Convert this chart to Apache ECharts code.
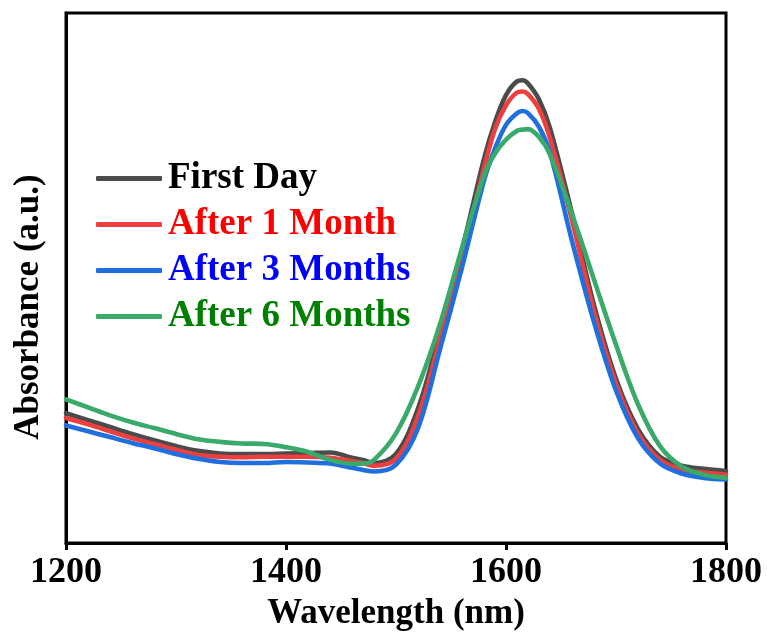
<!DOCTYPE html>
<html>
<head>
<meta charset="utf-8">
<script src="https://cdn.jsdelivr.net/npm/echarts@6/dist/echarts.min.js"></script>
<style>
  html, body { margin: 0; padding: 0; background: #fff; }
  #chart { width: 767px; height: 636px; }
</style>
</head>
<body>
<div id="chart"></div>
<script>
// Wavelength grid (nm) shared by all spectra
const wavelengths = [1200, 1220, 1240, 1260, 1280, 1300, 1320, 1340, 1360, 1380, 1400, 1420, 1440, 1460, 1470, 1480, 1500,
  1520, 1540, 1560, 1580, 1590, 1600, 1610, 1615, 1620, 1630, 1640, 1660, 1680, 1700, 1720, 1740, 1760, 1780, 1800];

// Absorbance (a.u.) for each storage time
const firstDay = [0.245, 0.232, 0.219, 0.206, 0.194, 0.183, 0.174, 0.169, 0.168, 0.168, 0.169, 0.170, 0.171, 0.161, 0.157, 0.151, 0.168,
  0.254, 0.398, 0.553, 0.725, 0.794, 0.845, 0.871, 0.873, 0.867, 0.837, 0.783, 0.622, 0.449, 0.310, 0.215, 0.163, 0.146, 0.140, 0.136];
const after1Month = [0.236, 0.224, 0.211, 0.198, 0.187, 0.176, 0.166, 0.163, 0.162, 0.163, 0.163, 0.163, 0.161, 0.155, 0.151, 0.146, 0.159,
  0.239, 0.385, 0.538, 0.707, 0.781, 0.826, 0.850, 0.852, 0.847, 0.819, 0.764, 0.609, 0.437, 0.301, 0.207, 0.157, 0.138, 0.133, 0.129];
const after3Months = [0.222, 0.211, 0.200, 0.189, 0.179, 0.168, 0.159, 0.153, 0.151, 0.151, 0.153, 0.152, 0.150, 0.142, 0.138, 0.135, 0.148,
  0.217, 0.366, 0.520, 0.684, 0.744, 0.789, 0.811, 0.815, 0.811, 0.785, 0.736, 0.570, 0.417, 0.288, 0.198, 0.150, 0.131, 0.123, 0.120];
const after6Months = [0.271, 0.256, 0.241, 0.228, 0.217, 0.206, 0.196, 0.191, 0.188, 0.187, 0.181, 0.172, 0.157, 0.150, 0.150, 0.157, 0.207,
  0.295, 0.413, 0.557, 0.693, 0.735, 0.761, 0.778, 0.780, 0.781, 0.766, 0.733, 0.621, 0.497, 0.374, 0.262, 0.183, 0.144, 0.129, 0.123];

const seriesNames = ['First Day', 'After 1 Month', 'After 3 Months', 'After 6 Months'];
const seriesValues = [firstDay, after1Month, after3Months, after6Months];
const lineColors = ['#4b4b4b', '#ee3f3f', '#1f6fdd', '#3aaa6a'];
const textColors = ['#000000', '#ff0000', '#0000ff', '#008000'];
const xTicks = [1200, 1400, 1600, 1800];

const FONT = '"Liberation Serif", "Times New Roman", serif';

const chart = echarts.init(document.getElementById('chart'), null, { renderer: 'canvas' });

chart.setOption({
  animation: false,
  backgroundColor: '#ffffff',
  grid: {
    left: 66, right: 41, top: 13, bottom: 88,
    show: true, borderColor: '#000', borderWidth: 3, backgroundColor: 'transparent'
  },
  legend: {
    orient: 'vertical',
    left: 91, top: 155,
    icon: 'roundRect',
    itemWidth: 66, itemHeight: 5, itemGap: 9,
    data: seriesNames.map((n, i) => ({ name: n, textStyle: { color: textColors[i] } })),
    textStyle: { fontFamily: FONT, fontWeight: 'bold', fontSize: 37, lineHeight: 37, padding: [0, 0, 0, 1] }
  },
  xAxis: {
    type: 'value',
    min: xTicks[0], max: xTicks[xTicks.length - 1], interval: 200,
    name: 'Wavelength (nm)', nameLocation: 'middle', nameGap: 50,
    nameTextStyle: { fontFamily: FONT, fontWeight: 'bold', fontSize: 35, color: '#000' },
    axisLine: { show: true, lineStyle: { color: '#000', width: 3 } },
    axisTick: { show: true, inside: false, length: 7, lineStyle: { color: '#000', width: 3 } },
    axisLabel: {
      margin: 12, fontFamily: FONT, fontWeight: 'bold', fontSize: 36, color: '#000',
      formatter: v => (xTicks.includes(v) ? String(v) : '')
    },
    splitLine: { show: false }
  },
  yAxis: {
    type: 'value', min: 0, max: 1,
    name: 'Absorbance (a.u.)', nameLocation: 'middle', nameGap: 20, nameRotate: 90,
    nameTextStyle: { fontFamily: FONT, fontWeight: 'bold', fontSize: 35, color: '#000', padding: [0, 58, 0, 0] },
    axisLine: { show: true, lineStyle: { color: '#000', width: 3 } },
    axisTick: { show: false },
    axisLabel: { show: false },
    splitLine: { show: false }
  },
  series: seriesNames.map((name, i) => ({
    name,
    type: 'line',
    data: wavelengths.map((w, k) => [w, seriesValues[i][k]]),
    smooth: 0.35,
    symbol: 'none',
    showSymbol: false,
    clip: true,
    color: lineColors[i],
    lineStyle: { color: lineColors[i], width: 4.6, cap: 'round', join: 'round' },
    z: 2 + i
  }))
});
</script>
</body>
</html>
